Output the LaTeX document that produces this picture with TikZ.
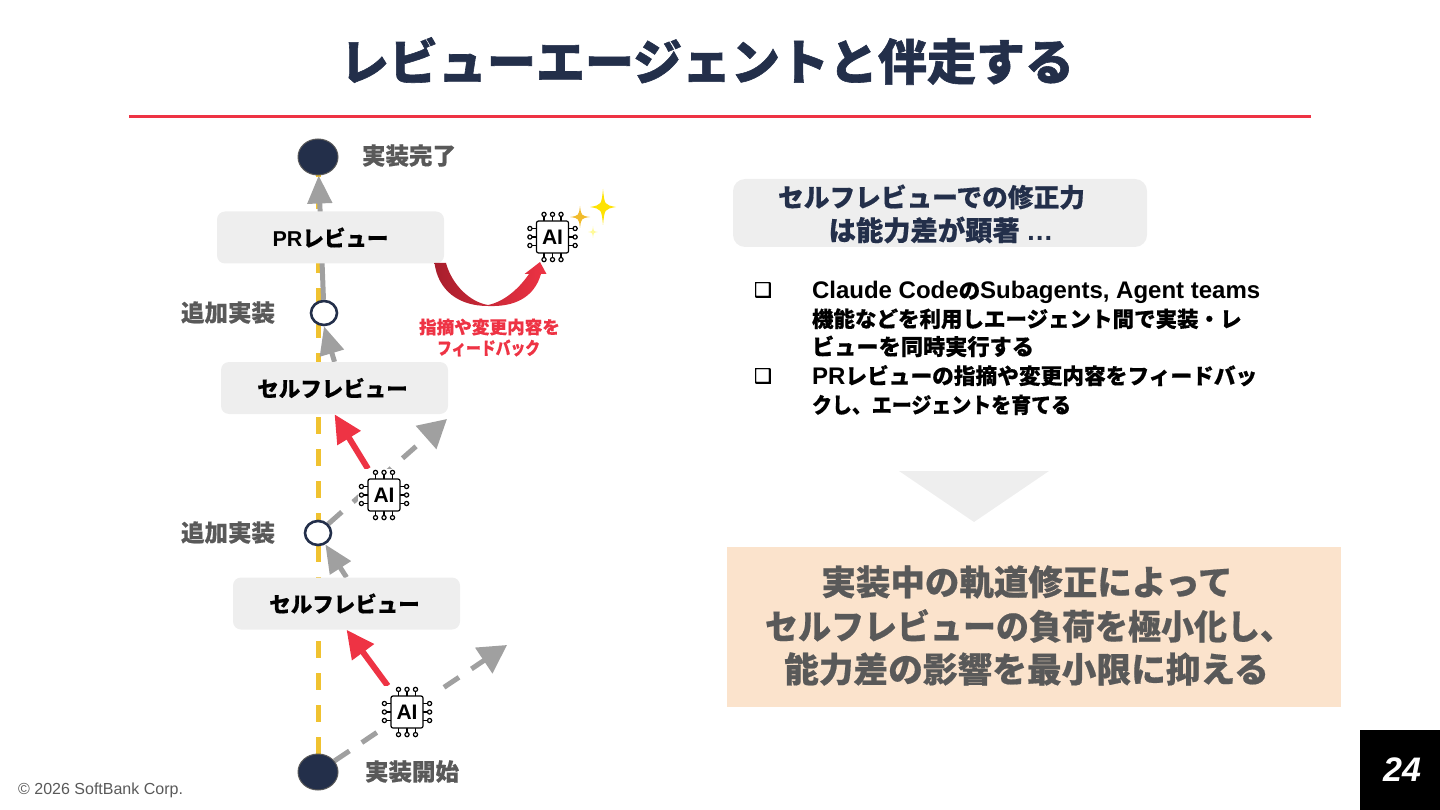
\documentclass[tikz,border=0pt]{standalone}
\usepackage{fontspec}
\setmainfont{Noto Sans CJK JP}[BoldFeatures={FakeBold=0.5}]
\newfontfamily\heavy{Noto Sans CJK JP}[BoldFeatures={FakeBold=1.2}]
\newfontfamily\lat{Liberation Sans}
\newfontfamily\sym{DejaVu Sans}[FakeBold=2]
\usetikzlibrary{arrows.meta,shapes.geometric,calc}
\pgfdeclarelayer{conn}
\pgfsetlayers{conn,main}
\definecolor{navy}{HTML}{232F4A}
\definecolor{redx}{HTML}{EE3344}
\definecolor{darkred}{HTML}{A81E2C}
\definecolor{yel}{HTML}{F0C230}
\definecolor{grayarrow}{HTML}{A0A0A0}
\definecolor{boxgray}{HTML}{EEEEEE}
\definecolor{txtgray}{HTML}{595959}
\definecolor{peach}{HTML}{FBE3CC}
\newcommand{\fs}[1]{\fontsize{#1}{#1}\selectfont}
\newcommand{\fitw}[2]{\resizebox{#1}{\height}{#2}}
\newcommand{\latb}[1]{{\lat\fs{24}#1}}
\tikzset{
  txt/.style={inner sep=0pt,outer sep=0pt,font=\bfseries},
  graybox/.style={fill=boxgray,rounded corners=8pt,minimum width=227pt,minimum height=52pt,inner sep=0pt,font=\bfseries\fs{21.5},text=black},
  bigdot/.style={ellipse,fill=navy,draw=txtgray,line width=1pt,minimum width=40pt,minimum height=36pt,inner sep=0pt},
  smalldot/.style={ellipse,fill=white,draw=navy,line width=2.6pt,minimum width=26pt,minimum height=24pt,inner sep=0pt},
  lab/.style={txt,text=txtgray,font=\bfseries\fs{23.5}},
  yline/.style={draw=yel,line width=5pt,dash pattern=on 17pt off 15pt},
  gsolid/.style={draw=grayarrow,line width=5pt,-{Triangle[length=28pt,width=24pt]}},
  gdash/.style={draw=grayarrow,line width=5pt,dash pattern=on 18pt off 15pt,-{Triangle[length=28pt,width=30pt]}},
  rarrow/.style={draw=redx,line width=6pt,-{Triangle[length=28pt,width=26pt]}},
  chipnode/.style={fill=white,minimum size=52pt,inner sep=0pt},
  body/.style={txt,font=\bfseries\fs{21.5},anchor=base west},
  chipline/.style={draw=black,line width=1.2pt},
}
\newcommand{\aichip}[3]{%
  \node[chipnode] (#1) at (#2,#3) {};
  \begin{scope}[shift={(#2,#3)}]
    \foreach \d in {-8.5,0,8.5} {
      \draw[chipline] (\d,-16) -- (\d,-20.5); \draw[chipline] (\d,-22.6) circle (2.1pt);
      \draw[chipline] (\d,16) -- (\d,20.5); \draw[chipline] (\d,22.6) circle (2.1pt);
      \draw[chipline] (-16,\d) -- (-20.5,\d); \draw[chipline] (-22.6,\d) circle (2.1pt);
      \draw[chipline] (16,\d) -- (20.5,\d); \draw[chipline] (22.6,\d) circle (2.1pt);
    }
    \draw[chipline,fill=white,rounded corners=2pt] (-16,-16) rectangle (16,16);
    \node[inner sep=0pt] at (0,0) {\lat\bfseries\fs{21}AI};
  \end{scope}}
\newcommand{\sparkle}[5]{% x y rx ry color
  \fill[#5] (#1,#2-#4) .. controls (#1+#3*.12,#2-#4*.12) .. (#1+#3,#2)
    .. controls (#1+#3*.12,#2+#4*.12) .. (#1,#2+#4)
    .. controls (#1-#3*.12,#2+#4*.12) .. (#1-#3,#2)
    .. controls (#1-#3*.12,#2-#4*.12) .. cycle;}
\begin{document}
\begin{tikzpicture}[x=1pt,y=-1pt]
\useasboundingbox (0,0) rectangle (1440,810);
% title
\node[inner sep=0pt,text=navy,font=\heavy\bfseries\fs{49}] (title) at (707,61) {レビューエージェントと伴走する};
\draw[redx,line width=3pt] (129,116.5) -- (1311,116.5);
% nodes
\node[bigdot] (endn) at (318,157) {};
\node[bigdot] (startn) at (318,772) {};
\node[smalldot] (mida) at (324,313) {};
\node[smalldot] (midb) at (318,533) {};
\node[graybox] (pr) at (330.5,237.5) {{\lat PR}レビュー};
\node[graybox] (selfa) at (334.5,388) {セルフレビュー\hspace{4pt}\mbox{}};
\node[graybox] (selfb) at (346.5,603.5) {セルフレビュー\hspace{4pt}\mbox{}};
\aichip{chipa}{407}{712}
\aichip{chipb}{384}{495}
\aichip{chipc}{552.5}{237}
\coordinate (freea) at (507,645);
\coordinate (freeb) at (447,419);
% connectors
\begin{pgfonlayer}{conn}
\draw[yline] (startn) -- (endn);
\draw[gsolid] (mida) -- (endn);
\draw[gsolid] (selfa.north) -- (mida.south);
\draw[gsolid] (selfb.north) -- (midb);
\draw[rarrow] (chipa) -- (selfb.south);
\draw[rarrow] (chipb) -- (selfa.south);
\draw[gdash] (startn) -- (freea);
\draw[gdash] (midb) -- (freeb);
\end{pgfonlayer}
% curved arrow
\shade[left color=darkred,right color=redx]
  (434.5,263) -- (446,263) .. controls (452,285) and (470,302) .. (488,305)
  .. controls (503,302) and (518,290) .. (529,274) -- (524.5,274) -- (540,262) -- (546.5,274) -- (541,274)
  .. controls (534,298) and (514,307) .. (488,306)
  .. controls (458,306) and (438,290) .. (434.5,263) -- cycle;
% sparkles
\sparkle{603}{207}{13}{18}{yellow!85!orange}
\sparkle{580}{217}{10}{11}{yel!90!orange}
\sparkle{593}{232}{5}{6}{yellow!40!white}
% labels
\node[lab] (la) at (409,155.5) {実装完了};
\node[lab] (lb) at (228,312.5) {追加実装};
\node[lab] (lc) at (228,532.5) {追加実装};
\node[lab] (ld) at (412,771.5) {実装開始};
\node[txt,text=redx,font=\bfseries\fs{17.6}] (fa) at (489.5,327) {指摘や変更内容を};
\node[txt,text=redx,font=\bfseries\fs{17.6}] (fb) at (488.5,348) {\fitw{103pt}{フィードバック}};
% right side
\fill[boxgray,rounded corners=12pt] (733,179) rectangle (1147,247);
\node[txt,text=navy,font=\bfseries\fs{25.7}] (ha) at (931.5,197) {セルフレビューでの修正力};
\node[txt,text=navy,font=\bfseries\fs{27.3}] (hb) at (941,230) {は能力差が顕著 {\lat …}};
\node[inner sep=0pt,text=black,font=\sym\fs{20}] (ba) at (763,290) {❑};
\node[inner sep=0pt,text=black,font=\sym\fs{20}] (bb) at (763,376) {❑};
\node[body] (ta) at (812,298.5) {\latb{Claude Code}の\latb{Subagents, Agent teams}};
\node[body] (tb) at (812,327) {機能などを利用しエージェント間で実装・レ};
\node[body,font=\bfseries\fs{22.2}] (tc) at (812,355) {ビューを同時実行する};
\node[body,font=\bfseries\fs{21.7}] (td) at (812,384) {\latb{PR}レビューの指摘や変更内容をフィードバッ};
\node[body] (te) at (812,413) {\fitw{259pt}{クし、エージェントを育てる}};
\fill[boxgray] (899,471) -- (1049,471) -- (974,522) -- cycle;
\fill[peach] (727,547) rectangle (1341,707);
\node[txt,text=txtgray,font=\bfseries\fs{34.5}] (ca) at (1027,582) {実装中の軌道修正によって};
\node[txt,text=txtgray,font=\bfseries\fs{34.5},anchor=west] (cb) at (765,626) {\fitw{528pt}{セルフレビューの負荷を極小化し、}};
\node[txt,text=txtgray,font=\bfseries\fs{34.7}] (cc) at (1026.5,669) {能力差の影響を最小限に抑える};
% footer
\node[inner sep=0pt,anchor=west,text=txtgray,font=\lat\fs{16}] (copy) at (18,790) {© 2026 SoftBank Corp.};
\fill[black] (1360,730) rectangle (1440,810);
\node[inner sep=0pt,text=white,font=\lat\bfseries\itshape\fs{34}] (pg) at (1402,770) {24};
\end{tikzpicture}
\end{document}
